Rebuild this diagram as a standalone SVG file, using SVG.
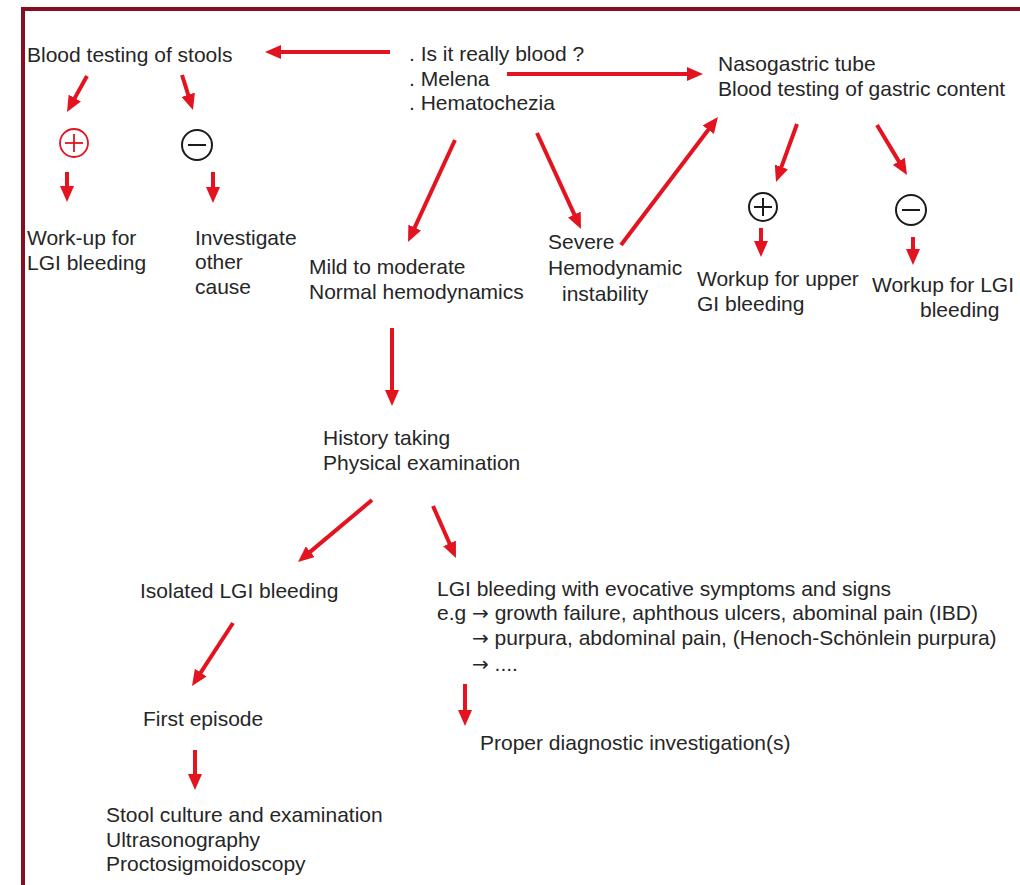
<svg xmlns="http://www.w3.org/2000/svg" width="1020" height="885" viewBox="0 0 1020 885">
<defs>
<marker id="ah" viewBox="0 0 16 14" refX="1" refY="7" markerUnits="userSpaceOnUse" markerWidth="16" markerHeight="14" orient="auto">
<path d="M0,0 L16,7 L0,14 z" fill="#e3141f"/>
</marker>
<style>
text{font-family:"Liberation Sans",Arial,sans-serif;font-size:21px;fill:#262626}
.ar{font-family:"DejaVu Sans",sans-serif;font-size:20px}
.c line,.c path{stroke:#e3141f;stroke-width:4;fill:none;marker-end:url(#ah)}
.sym{fill:none;stroke:#1a1a1a;stroke-width:2}
.symr{fill:none;stroke:#e3141f;stroke-width:1.8}
</style>
</defs>
<rect width="1020" height="885" fill="#ffffff"/>
<g id="frame" fill="#870f24">
<rect x="21" y="7" width="999" height="4"/>
<rect x="21" y="7" width="4" height="878"/>
</g>
<g id="n-stools"><text x="27" y="62">Blood testing of stools</text></g>
<g id="n-start"><text x="409" y="61">. Is it really blood ?</text><text x="409" y="86">. Melena</text><text x="409" y="110">. Hematochezia</text></g>
<g id="n-ngt"><text x="718" y="71">Nasogastric tube</text><text x="718" y="96">Blood testing of gastric content</text></g>
<g id="n-pos1"><circle class="symr" cx="74" cy="143" r="14"/><line class="symr" x1="65" y1="143" x2="83" y2="143"/><line class="symr" x1="74" y1="134" x2="74" y2="152"/></g>
<g id="n-neg1"><circle class="sym" cx="197" cy="145" r="15"/><line class="sym" x1="188" y1="145" x2="206" y2="145"/></g>
<g id="n-workup"><text x="27" y="245">Work-up for</text><text x="27" y="270">LGI bleeding</text></g>
<g id="n-other"><text x="195" y="245">Investigate</text><text x="195" y="269">other</text><text x="195" y="294">cause</text></g>
<g id="n-mild"><text x="309" y="274">Mild to moderate</text><text x="309" y="299">Normal hemodynamics</text></g>
<g id="n-severe"><text x="548" y="249">Severe</text><text x="548" y="275">Hemodynamic</text><text x="562" y="301">instability</text></g>
<g id="n-pos2"><circle class="sym" cx="763" cy="207" r="14"/><line class="sym" x1="754" y1="207" x2="772" y2="207"/><line class="sym" x1="763" y1="198" x2="763" y2="216"/></g>
<g id="n-neg2"><circle class="sym" cx="911" cy="210" r="15"/><line class="sym" x1="902" y1="210" x2="920" y2="210"/></g>
<g id="n-upper"><text x="697" y="286">Workup for upper</text><text x="697" y="311">GI bleeding</text></g>
<g id="n-lgi"><text x="872" y="292">Workup for LGI</text><text x="920" y="317">bleeding</text></g>
<g id="n-history"><text x="323" y="445">History taking</text><text x="323" y="470">Physical examination</text></g>
<g id="n-isolated"><text x="140" y="598">Isolated LGI bleeding</text></g>
<g id="n-evocative"><text x="437" y="596">LGI bleeding with evocative symptoms and signs</text><text x="437" y="620">e.g <tspan class="ar">→</tspan> growth failure, aphthous ulcers, abominal pain (IBD)</text><text x="472" y="645"><tspan class="ar">→</tspan> purpura, abdominal pain, (Henoch-Schönlein purpura)</text><text x="472" y="671"><tspan class="ar">→</tspan> ....</text></g>
<g id="n-first"><text x="143" y="726">First episode</text></g>
<g id="n-proper"><text x="480" y="750">Proper diagnostic investigation(s)</text></g>
<g id="n-stool"><text x="106" y="822">Stool culture and examination</text><text x="106" y="847">Ultrasonography</text><text x="106" y="871">Proctosigmoidoscopy</text></g>
<g id="connectors" class="c">
<line x1="390" y1="52" x2="280" y2="52"/>
<line x1="87" y1="76" x2="74.3" y2="98.9"/>
<line x1="182" y1="75" x2="188.5" y2="95.7"/>
<line x1="67" y1="172" x2="67" y2="187"/>
<line x1="213" y1="172" x2="213" y2="188"/>
<line x1="507" y1="74" x2="688" y2="74"/>
<line x1="455" y1="140" x2="414.3" y2="228.4"/>
<line x1="537" y1="133" x2="574.75" y2="215.4"/>
<line x1="621" y1="245" x2="708.9" y2="128.95"/>
<line x1="797" y1="124" x2="781.1" y2="167.9"/>
<line x1="877" y1="125" x2="899.3" y2="162.1"/>
<line x1="761" y1="228" x2="761" y2="242"/>
<line x1="913" y1="237" x2="913" y2="250"/>
<line x1="392" y1="328" x2="392" y2="391"/>
<line x1="372" y1="500" x2="309.5" y2="552.4"/>
<line x1="433" y1="506" x2="449.9" y2="544.3"/>
<line x1="233" y1="623" x2="200.2" y2="673.4"/>
<line x1="195" y1="750" x2="195" y2="775"/>
<line x1="465" y1="684" x2="465" y2="711"/>
</g>
</svg>
